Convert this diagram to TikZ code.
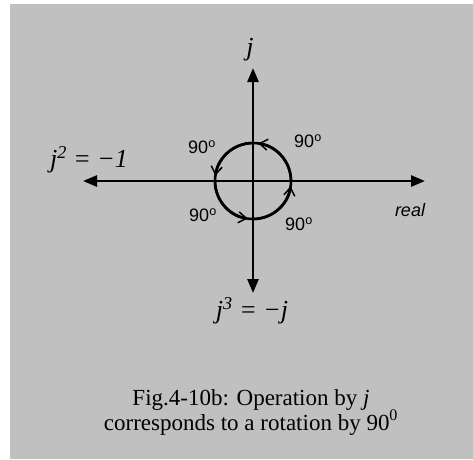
\documentclass[tikz,border=0pt]{standalone}
\usepackage{fontspec}
\setmainfont{Liberation Serif}
\setsansfont{Liberation Sans}
\usetikzlibrary{arrows.meta}
\definecolor{panel}{HTML}{C0C0C0}
\tikzset{
  axisline/.style={-{Triangle[length=14pt,width=11pt]},line width=2.6pt,black},
  turnarc/.style={-{Straight Barb[length=8pt,width=11pt,line width=1.5pt]},line width=2.6pt},
  anglelabel/.style={font=\sffamily\fontsize{18}{21}\selectfont},
  eqlabel/.style={font=\itshape\fontsize{26}{30}\selectfont},
  caption/.style={align=center,font=\fontsize{23}{25}\selectfont},
}

\begin{document}
\begin{tikzpicture}[x=1pt,y=-1pt]
\useasboundingbox (0,0) rectangle (473,459);
\fill[panel] (10,4) rectangle (473,459);

% axes
\coordinate (o) at (253,181);
\coordinate (up) at (253,68);
\coordinate (down) at (253,293);
\coordinate (left) at (83,181);
\coordinate (right) at (425,181);
\draw[axisline] (o) -- (up);
\draw[axisline] (o) -- (down);
\draw[axisline] (o) -- (left);
\draw[axisline] (o) -- (right);

% rotation circle, one arrow per quarter turn
\draw[line width=2.6pt] (o) circle[radius=38];
\foreach \a in {0,90,180,270}
  \draw[turnarc] (o) ++(-\a:38) arc[start angle=-\a, end angle=-\a-82, radius=38];

\node[eqlabel] (jup) at (250,50) {j};
\node[eqlabel] (jsq) at (89,160) {j\textsuperscript{2} = −1};
\node[eqlabel] (jcube) at (252,311) {j\textsuperscript{3} = −j};

\node[anglelabel] (q1) at (308,141) {90\textsuperscript{o}};
\node[anglelabel] (q2) at (202,147) {90\textsuperscript{o}};
\node[anglelabel] (q3) at (203,215) {90\textsuperscript{o}};
\node[anglelabel] (q4) at (299,224) {90\textsuperscript{o}};
\node[anglelabel, font=\sffamily\itshape\fontsize{18}{21}\selectfont] (real) at (410,210) {real};

\node[caption] (cap) at (251,412)
  {Fig.4-10b: Operation by \textit{j}\\corresponds to a rotation by 90\textsuperscript{0}};
\end{tikzpicture}
\end{document}
